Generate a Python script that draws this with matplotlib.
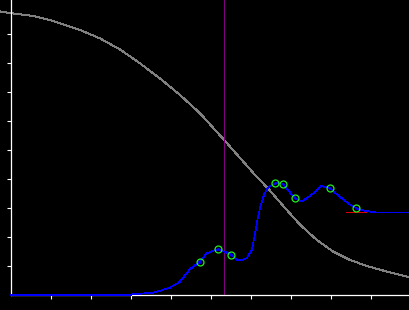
import matplotlib
matplotlib.use("Agg")
import matplotlib.pyplot as plt

# ---- data (axis units) ----
gray_x = [-0.27, 0.0, 0.57, 0.98, 1.23, 1.73, 2.23, 2.73, 3.23, 3.73, 4.23, 4.73,
          5.32, 5.73, 6.07, 6.48, 6.82, 7.23, 7.65, 8.07, 8.48, 8.90, 9.32, 9.73, 9.98]
gray_y = [9.78, 9.72, 9.62, 9.48, 9.37, 9.14, 8.85, 8.47, 7.99, 7.47, 6.90, 6.27,
          5.37, 4.73, 4.20, 3.60, 3.06, 2.43, 1.90, 1.49, 1.21, 1.00, 0.84, 0.69, 0.61]

blue_x = [0.0, 3.00, 3.07, 3.57, 3.98, 4.23, 4.48, 4.73, 4.90, 5.18, 5.36, 5.52, 5.65,
          5.78, 5.90, 6.03, 6.10, 6.17, 6.25, 6.34, 6.45, 6.61, 6.70, 6.80, 7.11, 7.28,
          7.57, 7.77, 7.97, 8.23, 8.44, 8.64, 8.86, 9.11, 9.98]
blue_y = [0.0, 0.0, 0.03, 0.08, 0.25, 0.46, 0.89, 1.15, 1.44, 1.58, 1.49, 1.38, 1.21,
          1.20, 1.27, 1.55, 2.05, 2.60, 3.10, 3.48, 3.73, 3.85, 3.87, 3.83, 3.33, 3.22,
          3.51, 3.76, 3.68, 3.39, 3.16, 2.99, 2.90, 2.85, 2.85]

marker_x = [4.73, 5.18, 5.52, 6.61, 6.80, 7.11, 7.97, 8.64]
marker_y = [1.15, 1.58, 1.38, 3.85, 3.83, 3.33, 3.68, 2.99]

red_x = [8.38, 8.88]
red_y = [2.85, 2.85]

vline_x = 5.32

xticks = [1, 2, 3, 4, 5, 6, 7, 8, 9]
yticks = [1, 2, 3, 4, 5, 6, 7, 8, 9]

# ---- figure ----
W, H = 410, 310
fig = plt.figure(figsize=(W / 100, H / 100), dpi=100, facecolor="black")
ax = fig.add_axes([10.7 / W, (H - 295) / H, 400 / W, 295 / H], facecolor="black")
ax.set_xlim(0, 10)
ax.set_ylim(0, 295 / 29)

ax.plot(gray_x, gray_y, color="#808080", lw=0.7, clip_on=False, zorder=2,
        antialiased=False)
ax.axvline(vline_x, color="#800080", lw=0.6, zorder=2, antialiased=False)
ax.plot(blue_x, blue_y, color="#0000ff", lw=0.5, clip_on=False, zorder=3,
        antialiased=False)
ax.plot(red_x, red_y, color="#dd0000", lw=0.7, zorder=3, antialiased=False)
ax.plot(marker_x, marker_y, ls="none", marker="o", ms=5, mfc="none",
        mec="#22ee22", mew=0.9, zorder=4)
ax.plot(marker_x, marker_y, ls="none", marker="s", ms=0.8, mfc="#0000ff",
        mec="#0000ff", zorder=5)

for s in ["top", "right"]:
    ax.spines[s].set_visible(False)
for s in ["left", "bottom"]:
    ax.spines[s].set_color("white")
    ax.spines[s].set_linewidth(0.9)

ax.set_xticks(xticks)
ax.set_yticks(yticks)
ax.tick_params(direction="out", length=2.6, width=0.8, color="white",
               labelbottom=False, labelleft=False)

fig.savefig("out.png", dpi=100, facecolor="black")
